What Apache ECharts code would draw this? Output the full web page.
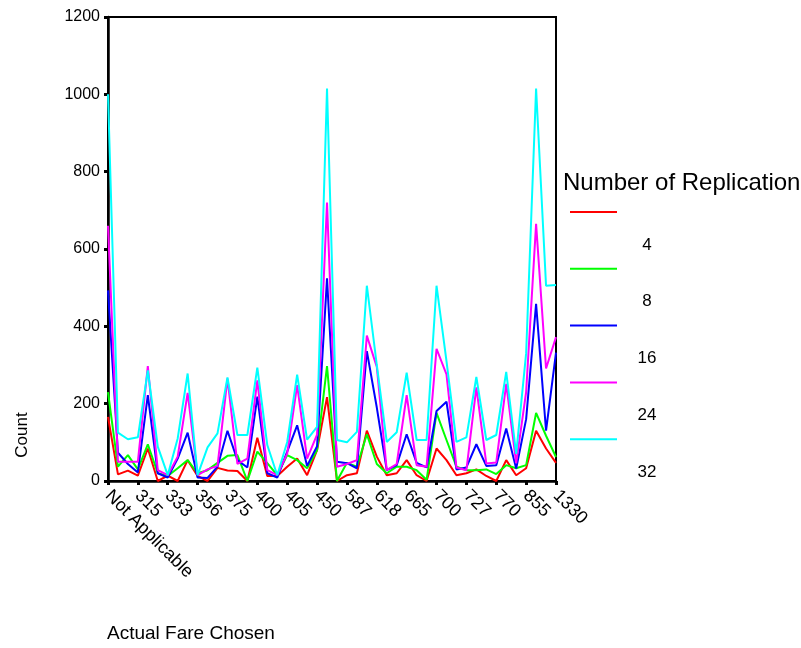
<!DOCTYPE html>
<html>
<head>
<meta charset="utf-8">
<script src="https://cdn.jsdelivr.net/npm/echarts@6/dist/echarts.min.js"></script>
<style>
html,body{margin:0;padding:0;background:#fff;}
#chart{width:801px;height:648px;}
</style>
</head>
<body>
<div id="chart"></div>
<script>
// Categories (fare values); only every third one is labelled in the reference
const categories = ["Not Applicable","300","310","315","320","325","333","340","350","356","360","370","375","380","390","400","402","404","405","420","440","450","500","550","587","595","600","618","630","650","665","675","690","700","710","720","727","740","760","770","800","830","855","900","1000","1330"];

const seriesNames = ["4","8","16","24","32"];
const seriesColors = ["#ff0000","#00ff00","#0000ff","#ff00ff","#00ffff"];

const rep4  = [166,17,27,14,84,0,14,0,54,13,0,34,27,26,0,112,13,13,37,58,15,80,217,0,15,20,130,63,15,20,54,15,0,84,54,15,20,30,13,0,54,15,33,130,84,47];
const rep8  = [230,37,67,30,95,20,13,33,54,20,28,47,65,67,0,76,46,15,67,54,33,80,297,0,47,37,121,44,20,37,37,28,3,176,106,37,28,28,30,18,41,33,41,176,117,62];
const rep16 = [493,73,44,22,222,20,9,58,125,9,8,37,130,54,35,218,20,9,76,144,39,90,524,50,46,33,336,190,28,41,121,47,35,181,205,30,35,95,39,41,136,32,160,458,130,332];
const rep24 = [660,50,50,50,297,28,15,63,228,15,30,39,265,44,58,260,28,15,71,248,58,120,720,37,44,54,376,295,28,44,222,41,37,342,276,35,28,242,45,48,251,46,230,665,291,372];
const rep32 = [1000,125,108,113,286,89,15,110,278,15,87,123,268,119,119,293,93,15,101,275,107,140,1015,106,100,127,505,300,101,126,280,106,106,505,310,101,113,269,106,119,282,70,330,1015,505,507];

const yTicks = {min:0, max:1200, interval:200};

const allData = [rep4, rep8, rep16, rep24, rep32];
const FONT = '"Liberation Sans", Arial, sans-serif';

const chart = echarts.init(document.getElementById('chart'), null, {renderer:'canvas'});

const series = allData.map((d, i) => ({
  name: seriesNames[i],
  type: 'line',
  data: d,
  symbol: 'none',
  smooth: false,
  lineStyle: {color: seriesColors[i], width: 2},
  itemStyle: {color: seriesColors[i]},
  animation: false
}));

// legend drawn as graphic elements (title, line samples, labels below lines)
const graphics = [
  {type:'text', x: 563, y: 183, style:{text:'Number of Replications', font:'24px ' + FONT, fill:'#000', textAlign:'left', textVerticalAlign:'middle'}},
  {type:'text', x: 22, y: 435, rotation: Math.PI/2, style:{text:'Count', font:'17px ' + FONT, fill:'#000', textAlign:'center', textVerticalAlign:'middle'}},
  {type:'text', x: 107, y: 634, style:{text:'Actual Fare Chosen', font:'19px ' + FONT, fill:'#000', textAlign:'left', textVerticalAlign:'middle'}}
];
seriesNames.forEach((n, i) => {
  const ly = 212 + i * 56.8;
  graphics.push({type:'line', shape:{x1:570, y1:ly, x2:617, y2:ly}, style:{stroke: seriesColors[i], lineWidth:2}});
  graphics.push({type:'text', x: 647, y: ly + 33, style:{text:n, font:'17px ' + FONT, fill:'#000', textAlign:'center', textVerticalAlign:'middle'}});
});

chart.setOption({
  animation: false,
  backgroundColor: '#fff',
  grid: {left:108, top:17, width:448, height:464, show:true, borderColor:'#000', borderWidth:2, containLabel:false},
  xAxis: {
    type:'category',
    data: categories,
    boundaryGap:false,
    axisLine:{show:true, lineStyle:{color:'#000', width:2.5}},
    axisTick:{show:true, interval:2, length:4, lineStyle:{color:'#000', width:3}},
    axisLabel:{interval:2, rotate:-45, color:'#000', fontSize:18, fontFamily:FONT, margin:12},
    splitLine:{show:false}
  },
  yAxis: {
    type:'value',
    min: yTicks.min, max: yTicks.max, interval: yTicks.interval,
    axisLine:{show:true, lineStyle:{color:'#000', width:2.5}},
    axisTick:{show:true, length:4, lineStyle:{color:'#000', width:3}},
    axisLabel:{color:'#000', fontSize:16, fontFamily:FONT, margin:8, formatter: v => String(v)},
    splitLine:{show:false}
  },
  series: series,
  graphic: graphics
});
</script>
</body>
</html>
